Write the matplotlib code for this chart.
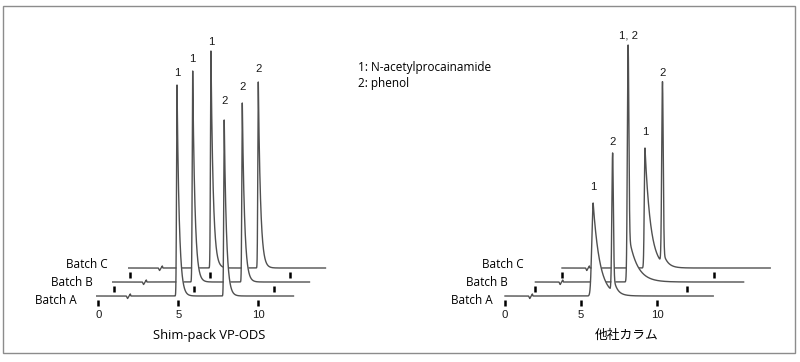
import numpy as np
import matplotlib.pyplot as plt
from matplotlib.patches import Rectangle

# ---- data ----------------------------------------------------------------
batches = ['Batch A', 'Batch B', 'Batch C']
tick_times = [0, 5, 10]
tick_labels = ['0', '5', '10']

# Shim-pack VP-ODS (left): retention time (min, own frame), height
vp_shift_x = [0.0, 1.0, 2.0]          # min
vp_shift_y = [0, 14, 28]              # intensity units
vp_rt = [[4.92, 7.87], [4.90, 8.00], [5.04, 8.00]]
vp_height = [[211, 176], [211, 179], [217, 186]]
vp_sigma = [[0.03, 0.03], [0.03, 0.03], [0.03, 0.03]]
vp_tau = [[0.14, 0.14], [0.14, 0.14], [0.14, 0.14]]
vp_tail = [[1.0, 1.0], [1.0, 1.0], [1.0, 1.0]]
vp_peak_labels = [['1', '2'], ['1', '2'], ['1', '2']]
vp_label_y = [[222.7, 195.3], [236.7, 208.7], [254.3, 226.7]]
vp_batch_label_x = [-1.33, -0.35, 0.61]
vp_range = (-0.1, 12.2)
vp_break = 1.9

# other column (right)
oc_shift_x = [0.0, 2.0, 3.75]
oc_shift_y = [0, 14, 28]
oc_rt = [[5.80, 7.08], [6.10], [5.46, 6.61]]
oc_height = [[93, 138], [237], [120, 181]]
oc_sigma = [[0.09, 0.05], [0.05], [0.045, 0.05]]
oc_tau = [[0.44, 0.22], [0.55], [0.37, 0.28]]
oc_tail = [[1.0, 0.13], [0.21], [1.0, 0.07]]
oc_peak_labels = [['1', '2'], ['1, 2'], ['1', '2']]
oc_label_y = [[109.3, 154.3], [261.0], [164.3, 222.7]]
oc_batch_label_x = [-0.81, 0.18, 1.2]
oc_range = (0.0, 13.7)
oc_break = 1.7

batch_label_y = [-5.0, 13.3, 31.7]

legend_lines = ['1: N-acetylprocainamide', '2: phenol']

zig_dt = np.array([-0.15, -0.07, 0.10, 0.14])
zig_dy = np.array([0.0, -2.5, 2.0, 0.0])

LINE = '#505050'
TXT_FONT = ['Open Sans', 'DejaVu Sans']
NUM_FONT = ['Liberation Sans', 'DejaVu Sans']


def peak(t, rt, h, sigma, tau, frac):
    g = np.exp(-0.5 * ((t - rt) / sigma) ** 2)
    e = np.where(t < rt, g, np.exp(-np.clip(t - rt, 0, None) / tau))
    return h * ((1 - frac) * g + frac * e)


def draw_panel(ax, sx, sy, rts, hs, sigs, taus, tails, plabels, ply,
               blx, trange, tbreak):
    for i in reversed(range(len(batches))):
        z = 3 - i
        t = np.arange(trange[0], trange[1], 0.002)
        y = np.zeros_like(t)
        for rt, h, s, ta, f in zip(rts[i], hs[i], sigs[i], taus[i], tails[i]):
            y += peak(t, rt, h, s, ta, f)
        y += np.interp(t, tbreak + zig_dt, zig_dy, left=0, right=0)
        x = t + sx[i]
        yy = y + sy[i]
        ax.fill_between(x, sy[i], yy, color='white', lw=0, zorder=z)
        ax.plot(x, yy, color=LINE, lw=1.0, zorder=z + 0.2)
        ax.vlines(np.array(tick_times) + sx[i], sy[i] - 9.5, sy[i] - 4,
                  color='black', lw=1.8, zorder=z + 0.1)
        for rt, lab, ly in zip(rts[i], plabels[i], ply[i]):
            ax.text(rt + sx[i], ly, lab, ha='center', va='center',
                    fontsize=8.2, family=NUM_FONT, color='#1a1a1a', zorder=10)
        ax.text(blx[i], batch_label_y[i], batches[i], ha='right', va='center',
                fontsize=8.5, family=TXT_FONT, color='black', zorder=10)
    for tt, tl in zip(tick_times, tick_labels):
        ax.text(tt, -18.5, tl, ha='center', va='center', fontsize=8.2,
                family=NUM_FONT, color='#1a1a1a')


fig = plt.figure(figsize=(8, 3.62), dpi=100)

# left axes: 1 min = 16 px, zero at x=98.3 px; y units = px above Batch A baseline (y=296 px)
ax1 = fig.add_axes([20 / 800, 0, 380 / 800, 1])
ax1.set_xlim((20 - 98.3) / 16, (400 - 98.3) / 16)
ax1.set_ylim(296 - 362, 296)
ax1.axis('off')

ax2 = fig.add_axes([410 / 800, 0, 390 / 800, 1])
ax2.set_xlim((410 - 505) / 15.2, (800 - 505) / 15.2)
ax2.set_ylim(296 - 362, 296)
ax2.axis('off')

draw_panel(ax1, vp_shift_x, vp_shift_y, vp_rt, vp_height, vp_sigma, vp_tau,
           vp_tail, vp_peak_labels, vp_label_y, vp_batch_label_x, vp_range,
           vp_break)
draw_panel(ax2, oc_shift_x, oc_shift_y, oc_rt, oc_height, oc_sigma, oc_tau,
           oc_tail, oc_peak_labels, oc_label_y, oc_batch_label_x, oc_range,
           oc_break)

ax1.text(6.95, -40, 'Shim-pack VP-ODS', ha='center', va='center',
         fontsize=9.4, family=TXT_FONT, color='black')
ax2.text(7.98, -39, '他社カラム', ha='center', va='center',
         fontsize=9.2, family=['Noto Sans CJK JP', 'DejaVu Sans'], color='black')

for k, line in enumerate(legend_lines):
    fig.text(358 / 800, 1 - (68 + 15 * k) / 362, line, ha='left', va='center',
             fontsize=8.5, family=TXT_FONT, color='black')

fig.patches.append(Rectangle((3 / 800, 9 / 362), 792 / 800, 347 / 362,
                             transform=fig.transFigure, fill=False,
                             ec='#8c8c8c', lw=1.0))

fig.savefig('out.png', dpi=100)
